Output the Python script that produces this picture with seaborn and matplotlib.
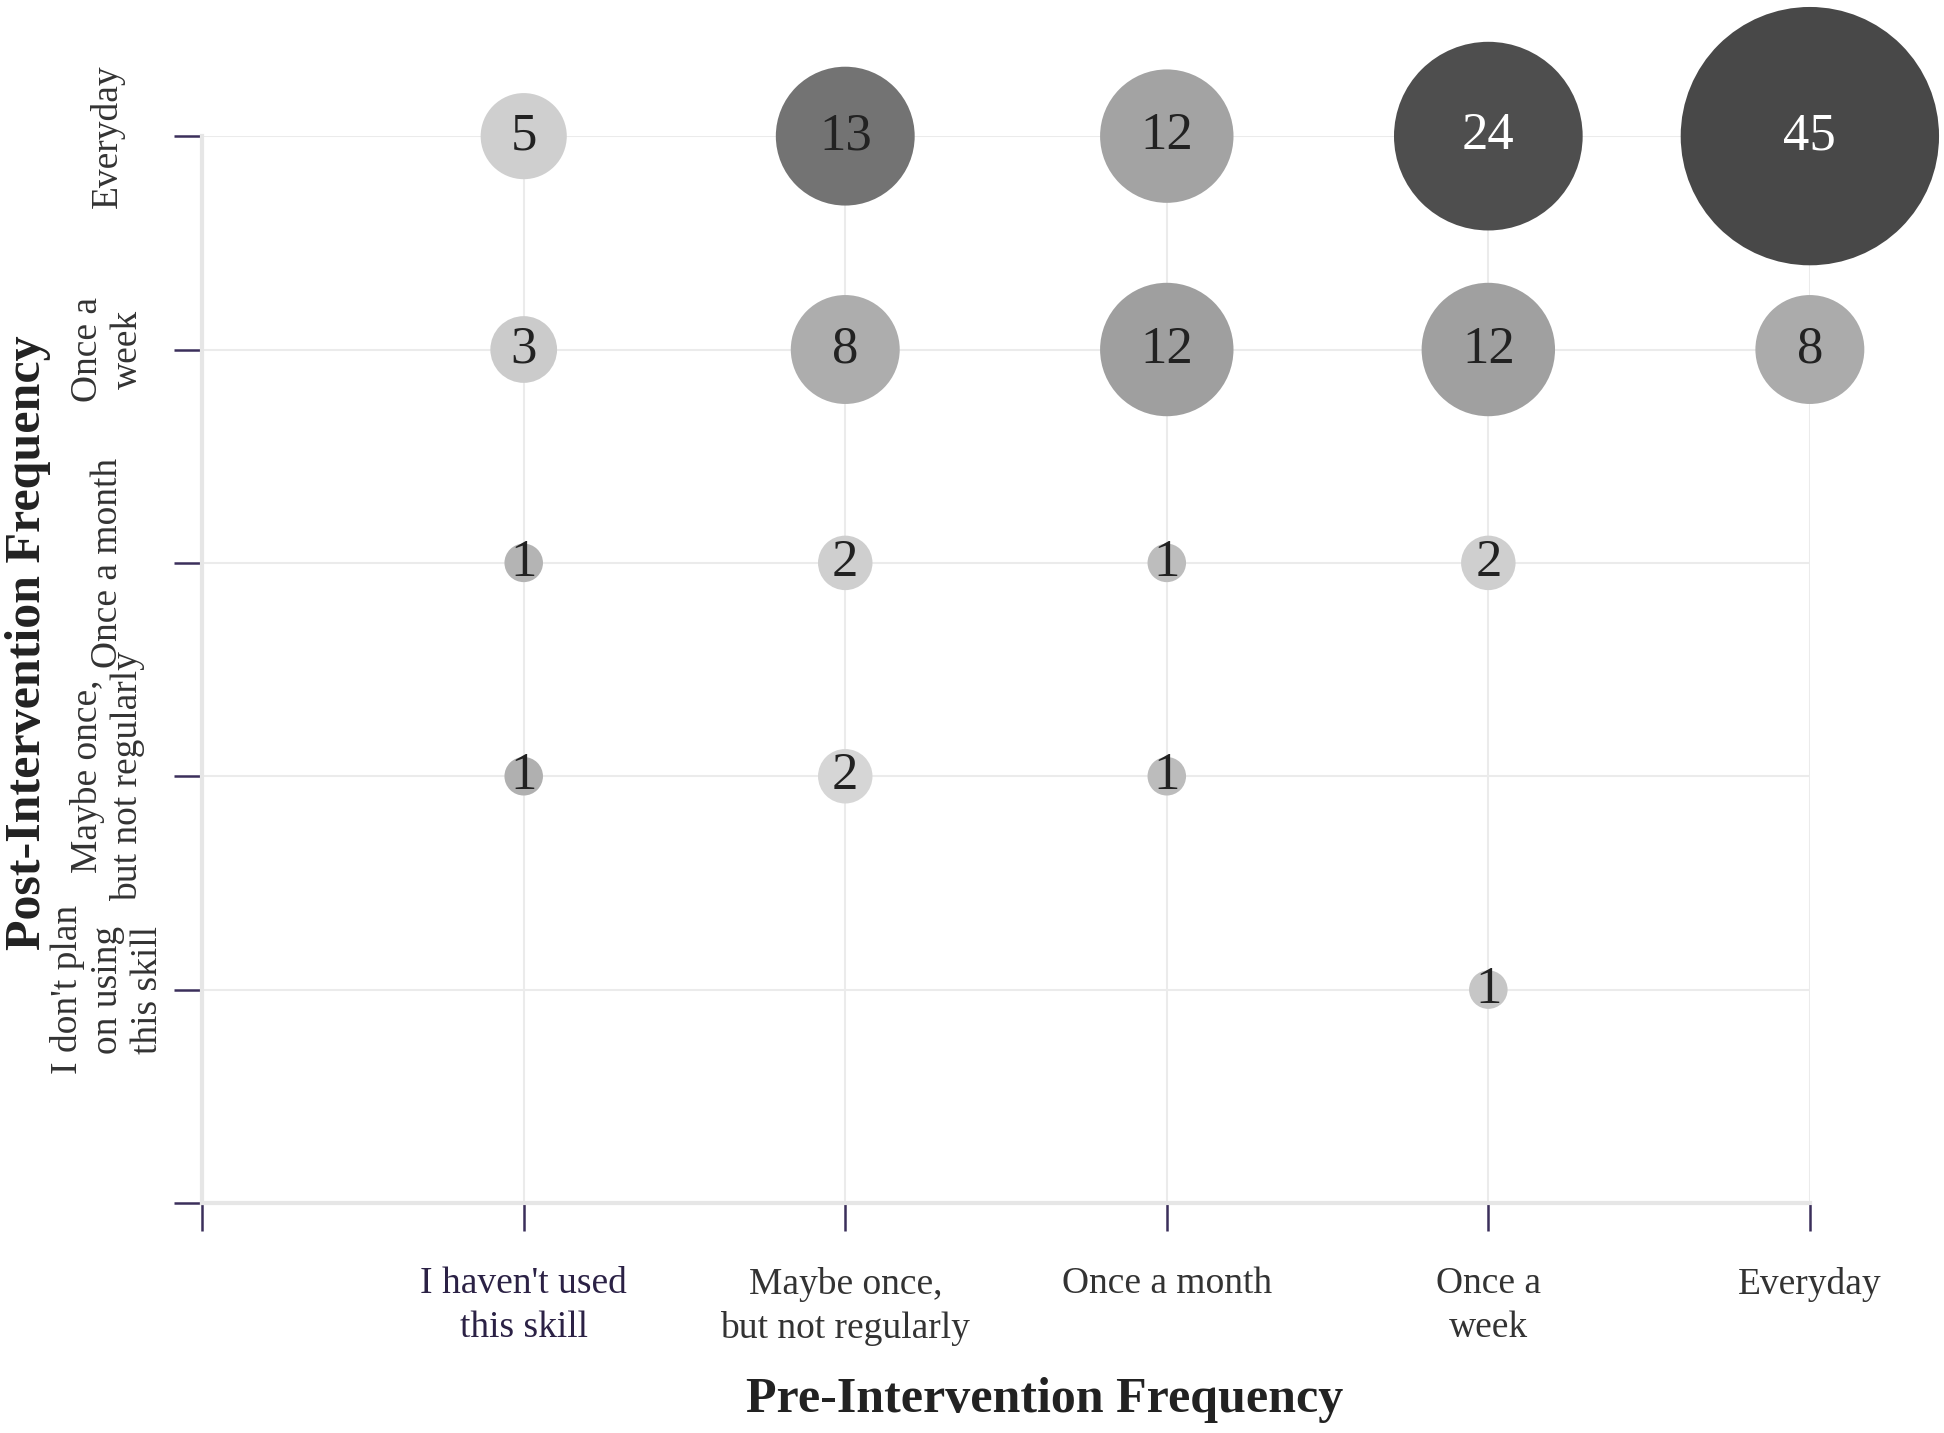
import matplotlib.pyplot as plt
import seaborn as sns
import pandas as pd

# categories (bottom to top on y, left to right on x)
pre_labels = ["I haven't used\nthis skill", "Maybe once,\nbut not regularly",
              "Once a month", "Once a\nweek", "Everyday"]
post_labels = ["I don't plan\non using\nthis skill", "Maybe once,\nbut not regularly",
               "Once a month", "Once a\nweek", "Everyday"]

# one entry per bubble: pre category index, post category index, count
pre_idx = [1, 2, 3, 4, 5, 1, 2, 3, 4, 5, 1, 2, 3, 4, 1, 2, 3, 4]
post_idx = [5, 5, 5, 5, 5, 4, 4, 4, 4, 4, 3, 3, 3, 3, 2, 2, 2, 1]
counts = [5, 13, 12, 24, 45, 3, 8, 12, 12, 8, 1, 2, 1, 2, 1, 2, 1, 1]
# grey shade of each bubble
shades = ["#cfcfcf", "#737373", "#a3a3a3", "#4e4e4e", "#484848",
          "#cbcbcb", "#adadad", "#9f9f9f", "#a0a0a0", "#ababab",
          "#b4b4b4", "#cfcfcf", "#bdbdbd", "#cfcfcf",
          "#b0b0b0", "#d6d6d6", "#bcbcbc", "#c6c6c6"]

df = pd.DataFrame({"pre": pre_idx, "post": post_idx, "count": counts, "shade": shades})

sns.set_theme(style="white")
plt.rcParams['font.family'] = ['Liberation Serif', 'DejaVu Serif']

fig, ax = plt.subplots(figsize=(19.44, 14.33), dpi=100)
fig.subplots_adjust(left=0.104, right=0.931, bottom=0.1605, top=0.905)

sns.scatterplot(data=df, x="pre", y="post", size="count", sizes=(769, 34600),
                hue="shade", palette={s: s for s in set(shades)},
                edgecolor="none", legend=False, ax=ax, zorder=3)
for coll in ax.collections:
    coll.set_clip_on(False)

for _, r in df.iterrows():
    ax.text(r["pre"], r["post"], str(r["count"]), ha="center", va="center",
            fontsize=38, color="white" if r["count"] >= 20 else "#222222",
            zorder=4)

ax.set_xlim(0, 5)
ax.set_ylim(0, 5)
ax.set_xticks(range(6))
ax.set_yticks(range(6))
ax.set_xticklabels([""] + pre_labels, fontsize=27, linespacing=1.35, va="top")
ax.set_yticklabels([""] + post_labels, fontsize=27, rotation=90,
                   ha="center", va="center", linespacing=1.2)
ax.get_xticklabels()[1].set_color("#2b2145")
for lbl in ax.get_xticklabels()[2:]:
    lbl.set_color("#333333")
for lbl in ax.get_yticklabels():
    lbl.set_color("#333333")

ax.grid(True, color="#ebebeb", linewidth=1.5, zorder=0)
ax.set_axisbelow(True)
for side in ["top", "right"]:
    ax.spines[side].set_visible(False)
for side in ["left", "bottom"]:
    ax.spines[side].set_color("#e6e6e6")
    ax.spines[side].set_linewidth(3)

ax.tick_params(axis="x", bottom=True, direction="out", length=20, width=1.8,
               color="#3b2f5b", pad=26)
ax.tick_params(axis="y", left=True, direction="out", length=20, width=1.8,
               color="#3b2f5b", pad=48)

ax.set_xlabel("Pre-Intervention Frequency", fontsize=36, fontweight="bold", color="#222222")
ax.set_ylabel("Post-Intervention Frequency", fontsize=36, fontweight="bold", color="#222222")
ax.xaxis.set_label_coords(0.524, -0.163)
ax.yaxis.set_label_coords(-0.094, 0.525)

plt.savefig("out.png", dpi=100)
